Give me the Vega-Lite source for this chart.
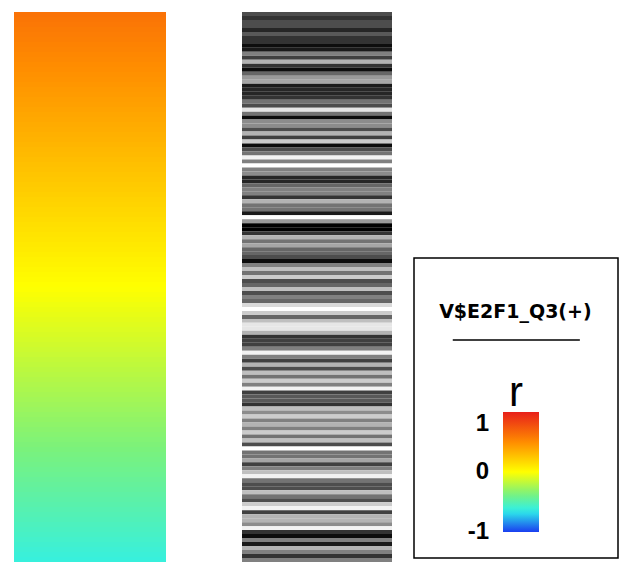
{
  "$schema": "https://vega.github.io/schema/vega-lite/v6.json",
  "padding": {"left": 14, "top": 12, "right": 0, "bottom": 0},
  "background": "white",
  "config": {"view": {"stroke": null}},
  "datasets": {
    "heat": [
      {"i":0,"r":0.614},{"i":1,"r":0.603},{"i":2,"r":0.592},{"i":3,"r":0.581},{"i":4,"r":0.569},{"i":5,"r":0.558},{"i":6,"r":0.547},{"i":7,"r":0.536},{"i":8,"r":0.524},{"i":9,"r":0.513},
      {"i":10,"r":0.502},{"i":11,"r":0.490},{"i":12,"r":0.479},{"i":13,"r":0.468},{"i":14,"r":0.457},{"i":15,"r":0.445},{"i":16,"r":0.434},{"i":17,"r":0.423},{"i":18,"r":0.412},{"i":19,"r":0.400},
      {"i":20,"r":0.389},{"i":21,"r":0.378},{"i":22,"r":0.366},{"i":23,"r":0.355},{"i":24,"r":0.344},{"i":25,"r":0.333},{"i":26,"r":0.321},{"i":27,"r":0.310},{"i":28,"r":0.299},{"i":29,"r":0.288},
      {"i":30,"r":0.276},{"i":31,"r":0.265},{"i":32,"r":0.254},{"i":33,"r":0.242},{"i":34,"r":0.231},{"i":35,"r":0.220},{"i":36,"r":0.209},{"i":37,"r":0.197},{"i":38,"r":0.186},{"i":39,"r":0.175},
      {"i":40,"r":0.164},{"i":41,"r":0.152},{"i":42,"r":0.141},{"i":43,"r":0.130},{"i":44,"r":0.118},{"i":45,"r":0.107},{"i":46,"r":0.096},{"i":47,"r":0.085},{"i":48,"r":0.073},{"i":49,"r":0.062},
      {"i":50,"r":0.051},{"i":51,"r":0.040},{"i":52,"r":0.028},{"i":53,"r":0.017},{"i":54,"r":0.006},{"i":55,"r":-0.006},{"i":56,"r":-0.017},{"i":57,"r":-0.028},{"i":58,"r":-0.040},{"i":59,"r":-0.051},
      {"i":60,"r":-0.062},{"i":61,"r":-0.073},{"i":62,"r":-0.085},{"i":63,"r":-0.096},{"i":64,"r":-0.107},{"i":65,"r":-0.118},{"i":66,"r":-0.130},{"i":67,"r":-0.141},{"i":68,"r":-0.152},{"i":69,"r":-0.164},
      {"i":70,"r":-0.175},{"i":71,"r":-0.186},{"i":72,"r":-0.197},{"i":73,"r":-0.209},{"i":74,"r":-0.220},{"i":75,"r":-0.231},{"i":76,"r":-0.242},{"i":77,"r":-0.254},{"i":78,"r":-0.265},{"i":79,"r":-0.276},
      {"i":80,"r":-0.288},{"i":81,"r":-0.299},{"i":82,"r":-0.310},{"i":83,"r":-0.321},{"i":84,"r":-0.333},{"i":85,"r":-0.344},{"i":86,"r":-0.355},{"i":87,"r":-0.366},{"i":88,"r":-0.378},{"i":89,"r":-0.389},
      {"i":90,"r":-0.400},{"i":91,"r":-0.412},{"i":92,"r":-0.423},{"i":93,"r":-0.434},{"i":94,"r":-0.445},{"i":95,"r":-0.457},{"i":96,"r":-0.468},{"i":97,"r":-0.479},{"i":98,"r":-0.490},{"i":99,"r":-0.502},
      {"i":100,"r":-0.513},{"i":101,"r":-0.524},{"i":102,"r":-0.536},{"i":103,"r":-0.547},{"i":104,"r":-0.558},{"i":105,"r":-0.569},{"i":106,"r":-0.581},{"i":107,"r":-0.592},{"i":108,"r":-0.603},{"i":109,"r":-0.614}
    ],
    "barcode": [
      {"k":0,"g":0.3},{"k":1,"g":0.2},{"k":2,"g":0.3},{"k":3,"g":0.3},{"k":4,"g":0.15},{"k":5,"g":0.35},{"k":6,"g":0.2},{"k":7,"g":0.2},{"k":8,"g":0.05},{"k":9,"g":0.1},
      {"k":10,"g":0.5},{"k":11,"g":0.25},{"k":12,"g":0.7},{"k":13,"g":0.2},{"k":14,"g":0.05},{"k":15,"g":0.4},{"k":16,"g":0.6},{"k":17,"g":0.65},{"k":18,"g":0.1},{"k":19,"g":0.15},
      {"k":20,"g":0.15},{"k":21,"g":0.2},{"k":22,"g":0.45},{"k":23,"g":0.3},{"k":24,"g":0.9},{"k":25,"g":0.45},{"k":26,"g":0.05},{"k":27,"g":0.55},{"k":28,"g":0.55},{"k":29,"g":0.3},
      {"k":30,"g":0.7},{"k":31,"g":0.25},{"k":32,"g":0.8},{"k":33,"g":0.05},{"k":34,"g":0.3},{"k":35,"g":0.45},{"k":36,"g":0.95},{"k":37,"g":0.5},{"k":38,"g":1.0},{"k":39,"g":0.5},
      {"k":40,"g":0.55},{"k":41,"g":0.15},{"k":42,"g":0.15},{"k":43,"g":0.4},{"k":44,"g":0.5},{"k":45,"g":0.5},{"k":46,"g":0.2},{"k":47,"g":0.7},{"k":48,"g":0.45},{"k":49,"g":0.45},
      {"k":50,"g":0.1},{"k":51,"g":1.0},{"k":52,"g":0.6},{"k":53,"g":0.0},{"k":54,"g":0.0},{"k":55,"g":0.2},{"k":56,"g":0.7},{"k":57,"g":0.45},{"k":58,"g":0.65},{"k":59,"g":0.4},
      {"k":60,"g":0.4},{"k":61,"g":0.3},{"k":62,"g":0.05},{"k":63,"g":0.5},{"k":64,"g":0.75},{"k":65,"g":0.45},{"k":66,"g":0.8},{"k":67,"g":0.3},{"k":68,"g":0.4},{"k":69,"g":0.75},
      {"k":70,"g":0.3},{"k":71,"g":0.5},{"k":72,"g":0.4},{"k":73,"g":0.85},{"k":74,"g":1.0},{"k":75,"g":0.8},{"k":76,"g":0.4},{"k":77,"g":0.75},{"k":78,"g":0.9},{"k":79,"g":0.9},
      {"k":80,"g":0.7},{"k":81,"g":0.2},{"k":82,"g":0.25},{"k":83,"g":0.25},{"k":84,"g":0.5},{"k":85,"g":0.95},{"k":86,"g":0.5},{"k":87,"g":0.25},{"k":88,"g":0.7},{"k":89,"g":0.3},
      {"k":90,"g":0.75},{"k":91,"g":0.45},{"k":92,"g":0.8},{"k":93,"g":0.5},{"k":94,"g":0.95},{"k":95,"g":0.25},{"k":96,"g":0.35},{"k":97,"g":0.35},{"k":98,"g":0.2},{"k":99,"g":0.75},
      {"k":100,"g":0.55},{"k":101,"g":0.8},{"k":102,"g":0.5},{"k":103,"g":0.7},{"k":104,"g":0.5},{"k":105,"g":0.8},{"k":106,"g":0.45},{"k":107,"g":0.75},{"k":108,"g":0.3},{"k":109,"g":1.0},
      {"k":110,"g":0.45},{"k":111,"g":0.45},{"k":112,"g":0.65},{"k":113,"g":0.25},{"k":114,"g":0.5},{"k":115,"g":0.75},{"k":116,"g":0.95},{"k":117,"g":0.45},{"k":118,"g":0.3},{"k":119,"g":0.3},
      {"k":120,"g":0.75},{"k":121,"g":0.45},{"k":122,"g":0.3},{"k":123,"g":0.8},{"k":124,"g":0.95},{"k":125,"g":0.25},{"k":126,"g":0.7},{"k":127,"g":0.7},{"k":128,"g":0.55},{"k":129,"g":0.95},
      {"k":130,"g":0.2},{"k":131,"g":0.05},{"k":132,"g":0.5},{"k":133,"g":0.1},{"k":134,"g":0.7},{"k":135,"g":0.5},{"k":136,"g":0.2},{"k":137,"g":0.5}
    ],
    "title": [{"label": "V$E2F1_Q3(+)"}],
    "rlabel": [{"label": "r"}]
  },
  "resolve": {"scale": {"color": "independent", "x": "independent", "y": "independent"}, "legend": {"color": "independent"}},
  "spacing": 21,
  "hconcat": [
    {
      "spacing": 76,
      "resolve": {"scale": {"color": "independent", "x": "independent", "y": "independent"}, "legend": {"color": "independent"}},
      "hconcat": [
        {
          "width": 152,
          "height": 550,
          "data": {"name": "heat"},
          "mark": {"type": "rect"},
          "encoding": {
            "y": {"field": "i", "type": "ordinal", "axis": null, "scale": {"paddingInner": 0, "paddingOuter": 0}},
            "x": {"value": 0},
            "x2": {"value": "width"},
            "color": {
              "field": "r", "type": "quantitative", "legend": null,
              "scale": {"domain": [-1, -0.65, -0.36, 0, 0.5, 1], "range": ["#1a3ef0", "#2ef0ea", "#7cf27a", "#ffff00", "#ff8c00", "#e8201a"], "interpolate": "rgb"}
            }
          }
        },
        {
          "width": 150,
          "height": 550,
          "data": {"name": "barcode"},
          "mark": {"type": "rect"},
          "encoding": {
            "y": {"field": "k", "type": "ordinal", "axis": null, "scale": {"paddingInner": 0, "paddingOuter": 0}},
            "x": {"value": 0},
            "x2": {"value": "width"},
            "color": {
              "field": "g", "type": "quantitative", "legend": null,
              "scale": {"domain": [0, 1], "range": ["#000000", "#ffffff"], "interpolate": "rgb"}
            }
          }
        }
      ]
    },
    {
      "spacing": 0,
      "resolve": {"scale": {"color": "independent", "x": "independent", "y": "independent"}, "legend": {"color": "independent"}},
      "vconcat": [
        {
          "width": 204,
          "height": 245,
          "data": {"values": []},
          "mark": "text",
          "encoding": {}
        },
        {
          "width": 204,
          "height": 300,
          "view": {"stroke": "#000000", "strokeWidth": 1.5},
          "layer": [
            {
              "data": {"name": "heat"},
              "mark": {"type": "rect", "opacity": 0},
              "encoding": {
                "x": {"value": 0}, "x2": {"value": 1}, "y": {"value": 0}, "y2": {"value": 1},
                "color": {
                  "field": "r", "type": "quantitative",
                  "scale": {"domain": [-1, -0.65, -0.36, 0, 0.5, 1], "range": ["#1a3ef0", "#2ef0ea", "#7cf27a", "#ffff00", "#ff8c00", "#e8201a"], "interpolate": "rgb"},
                  "legend": {
                    "orient": "none", "legendX": 89, "legendY": 154, "direction": "vertical", "title": null,
                    "padding": 0, "gradientLength": 120, "gradientThickness": 36, "gradientStrokeWidth": 0,
                    "values": [-1, 0, 1], "labelAlign": "right", "labelOffset": -50, "labelOverlap": false,
                    "labelFont": "Liberation Sans", "labelFontSize": 24, "labelFontWeight": "bold", "labelColor": "#000000",
                    "labelExpr": "replace(datum.label, '−', '-')",
                    "encode": {"labels": {"update": {"align": {"value": "right"}, "baseline": {"signal": "datum.value === 1 ? 'top' : 'middle'"}}}}
                  }
                }
              }
            },
            {
              "data": {"name": "title"},
              "mark": {"type": "text", "font": "DejaVu Sans", "fontWeight": "bold", "fontSize": 19, "align": "center", "baseline": "alphabetic", "color": "#000000"},
              "encoding": {
                "text": {"field": "label"},
                "x": {"datum": 0.497, "type": "quantitative", "scale": {"domain": [0, 1], "nice": false, "zero": false}, "axis": null},
                "y": {"datum": 0.8, "type": "quantitative", "scale": {"domain": [0, 1], "nice": false, "zero": false}, "axis": null}
              }
            },
            {
              "data": {"name": "title"},
              "mark": {"type": "rule", "color": "#000000", "strokeWidth": 1.5},
              "encoding": {
                "x": {"datum": 0.19, "type": "quantitative", "axis": null},
                "x2": {"datum": 0.813},
                "y": {"datum": 0.7267, "type": "quantitative", "axis": null}
              }
            },
            {
              "data": {"name": "rlabel"},
              "mark": {"type": "text", "font": "Liberation Sans", "fontSize": 42, "align": "center", "baseline": "alphabetic", "color": "#000000"},
              "encoding": {
                "text": {"field": "label"},
                "x": {"datum": 0.5, "type": "quantitative", "axis": null},
                "y": {"datum": 0.5067, "type": "quantitative", "axis": null}
              }
            }
          ]
        }
      ]
    }
  ]
}
